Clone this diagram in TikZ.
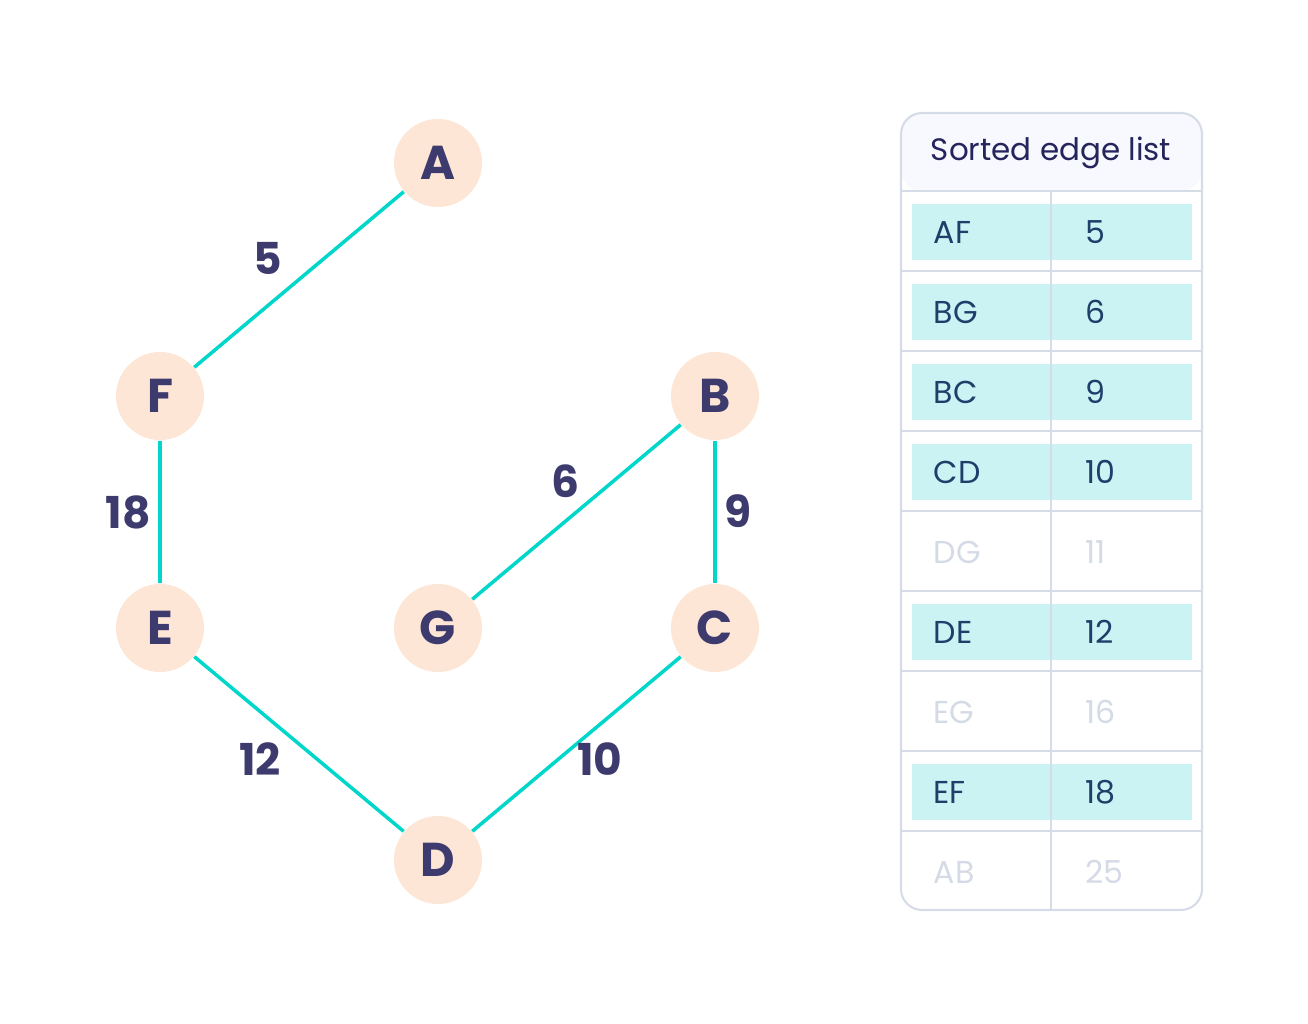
\documentclass[tikz,border=0pt]{standalone}
\usepackage{fontspec}
\setmainfont{Poppins}
\usetikzlibrary{backgrounds}

\definecolor{peach}{HTML}{FDE6D6}
\definecolor{ink}{HTML}{3D3A6E}
\definecolor{treeteal}{HTML}{00D6C9}
\definecolor{gridgray}{HTML}{D5DCE8}
\definecolor{headbg}{HTML}{F8F9FE}
\definecolor{headink}{HTML}{25245C}
\definecolor{rowink}{HTML}{1F3F6B}
\definecolor{faded}{HTML}{D5DBE6}
\definecolor{rowmark}{HTML}{CBF3F3}

\begin{document}
\begin{tikzpicture}[x=0.01cm,y=-0.01cm,
	vertex/.style={circle,fill=peach,text=ink,minimum size=0.88cm,inner sep=0pt,
		font=\fontsize{13.5}{16}\selectfont\bfseries},
	weight/.style={text=ink,font=\fontsize{12.5}{15}\selectfont\bfseries},
	tree/.style={draw=treeteal,line width=1pt},
	cell/.style={anchor=west,inner sep=0pt,font=\fontsize{9}{11}\selectfont}]
	\useasboundingbox (0,0) rectangle (1308,1024);
	% graph
	\node[vertex] (A) at (438,163) {A};
	\node[vertex] (F) at (160,396) {F};
	\node[vertex] (B) at (715,396) {B};
	\node[vertex] (E) at (160,628) {E};
	\node[vertex] (G) at (438,628) {G};
	\node[vertex] (C) at (715,628) {C};
	\node[vertex] (D) at (438,860) {D};
	\begin{scope}[on background layer]
		\path[tree]
		(A) edge (F)
		(F) edge (E)
		(B) edge (G)
			edge (C)
		(E) edge (D)
		(C) edge (D);
	\end{scope}
	\node[weight] (wAF) at (268,258) {5};
	\node[weight] (wEF) at (128,512) {18};
	\node[weight] (wBG) at (565,481) {6};
	\node[weight] (wBC) at (738,511) {9};
	\node[weight] (wDE) at (260,759) {12};
	\node[weight] (wCD) at (600,759) {10};
	% table
	\fill[headbg,rounded corners=6] (901,191) -- (901,113) -- (1202,113) -- (1202,191) -- cycle;
	\foreach \e/\w/\on [count=\i] in {AF/5/1,BG/6/1,BC/9/1,CD/10/1,DG/11/0,DE/12/1,EG/16/0,EF/18/1,AB/25/0}{
		\pgfmathsetmacro{\rowtop}{191+80*(\i-1)}
		\ifnum\on=1
			\fill[rowmark] (912,\rowtop+13) rectangle (1192,\rowtop+69);
			\node[cell,text=rowink] (e\i) at (933,\rowtop+41) {\e};
			\node[cell,text=rowink] (w\i) at (1085,\rowtop+41) {\w};
		\else
			\node[cell,text=faded] (e\i) at (933,\rowtop+41) {\e};
			\node[cell,text=faded] (w\i) at (1085,\rowtop+41) {\w};
		\fi
		\ifnum\i>1
			\draw[gridgray,line width=0.6pt] (901,\rowtop) -- (1202,\rowtop);
		\fi
	}
	\draw[gridgray,line width=0.6pt] (901,191) -- (1202,191);
	\draw[gridgray,line width=0.6pt] (1051,191) -- (1051,910);
	\draw[gridgray,line width=0.6pt,rounded corners=6] (901,113) rectangle (1202,910);
	\node[text=headink,font=\fontsize{8.8}{11}\selectfont] (head) at (1051,153) {Sorted edge list};
\end{tikzpicture}
\end{document}
